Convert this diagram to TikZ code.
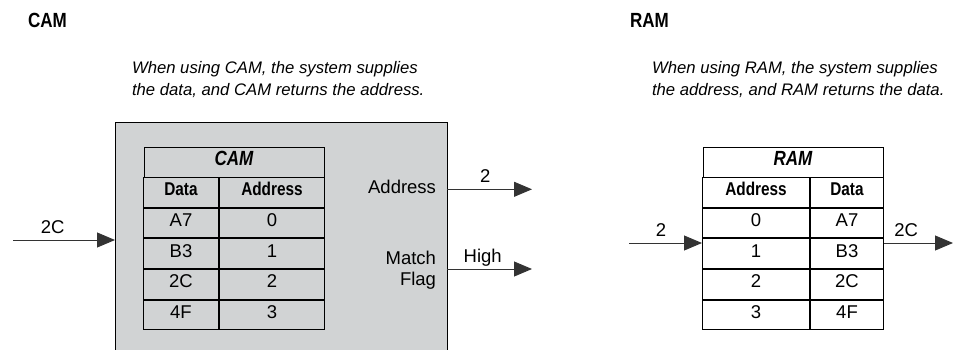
\documentclass[tikz,border=0pt]{standalone}
\usepackage{fontspec}
\setmainfont{Liberation Sans}
\newfontfamily\headfont[FakeStretch=0.83]{Liberation Sans}
\usetikzlibrary{arrows.meta,
                positioning,
                quotes}
\definecolor{boxgray}{RGB}{209,211,212}

\begin{document}
\begin{tikzpicture}[
    x=1bp, y=-1bp,
    line width=1bp,
        base/.style = {inner sep=0pt, outer sep=0pt},
        title/.style = {base, font=\headfont\bfseries\fontsize{20.5bp}{24bp}\selectfont},
        note/.style = {base, align=left, font=\itshape\fontsize{16.7bp}{22.4bp}\selectfont},
        sigtext/.style = {base, font=\fontsize{18.5bp}{21bp}\selectfont},
        cell/.style = {base, draw, minimum height=29.67bp, text height=0.72em, text depth=0pt,
                       font=\fontsize{18.5bp}{21bp}\selectfont},
        head/.style = {cell, font=\headfont\bfseries\fontsize{18.5bp}{21bp}\selectfont},
        tabtitle/.style = {cell, minimum width=180bp,
                           font=\headfont\bfseries\itshape\fontsize{20.5bp}{24bp}\selectfont},
        memtab/.style = {base, column sep=0pt, row sep=0pt},
        membox/.style = {base, draw, fill=boxgray, minimum width=332bp, minimum height=240bp},
        sig/.style = {draw=black!80, line width=.9bp, arrows=-{Triangle[length=18bp, width=15bp]}},
        every edge quotes/.style = {auto=left, pos=.42, inner sep=0pt, outer sep=6.5bp,
                                    text depth=0pt, font=\fontsize{18.5bp}{21bp}\selectfont}
        ]

    \useasboundingbox (0,0) rectangle (953,349);
    \clip (0,0) rectangle (953,349);

    % headings
    \node[title, anchor=base west] (camhead) at (28,27) {CAM};
    \node[title, anchor=base west] (ramhead) at (630,27) {RAM};

    \node[note, anchor=north west] (camnote) at (132,61)
        {When using CAM, the system supplies\\the data, and CAM returns the address.};
    \node[note, anchor=north west] (ramnote) at (652,61)
        {When using RAM, the system supplies\\the address, and RAM returns the data.};

    % CAM side
    \node[membox, anchor=north west] (cambox) at (115,122) {};

    \matrix[memtab, anchor=north west,
            column 1/.style={nodes={minimum width=75bp}},
            column 2/.style={nodes={minimum width=105bp}}] (camtab) at (143,177)
    {
        % Header
        \node[head] (cam-h1) {Data}; & \node[head] (cam-h2) {Address}; \\
        % Row 1
        \node[cell] (cam-d0) {A7}; & \node[cell] (cam-a0) {0}; \\
        % Row 2
        \node[cell] (cam-d1) {B3}; & \node[cell] (cam-a1) {1}; \\
        % Row 3
        \node[cell] (cam-d2) {2C}; & \node[cell] (cam-a2) {2}; \\
        % Row 4
        \node[cell] (cam-d3) {4F}; & \node[cell] (cam-a3) {3}; \\
    };
    \node[tabtitle, above=0pt of camtab] (camtitle) {CAM};

    \node[sigtext, anchor=base east] (addrtext) at (436,193.3) {Address};
    \node[sigtext, align=right, anchor=north east] (flagtext) at (436,251) {Match\\Flag};

    % RAM side
    \matrix[memtab, anchor=north west,
            column 1/.style={nodes={minimum width=107bp}},
            column 2/.style={nodes={minimum width=73bp}}] (ramtab) at (702,177)
    {
        % Header
        \node[head] (ram-h1) {Address}; & \node[head] (ram-h2) {Data}; \\
        % Row 1
        \node[cell] (ram-a0) {0}; & \node[cell] (ram-d0) {A7}; \\
        % Row 2
        \node[cell] (ram-a1) {1}; & \node[cell] (ram-d1) {B3}; \\
        % Row 3
        \node[cell] (ram-a2) {2}; & \node[cell] (ram-d2) {2C}; \\
        % Row 4
        \node[cell] (ram-a3) {3}; & \node[cell] (ram-d3) {4F}; \\
    };
    \node[tabtitle, above=0pt of ramtab] (ramtitle) {RAM};

    % signals
    \coordinate (camin)   at (13,240);
    \coordinate (addrout) at (532,189.3);
    \coordinate (flagout) at (532,269);
    \coordinate (ramin)   at (629,243);
    \coordinate (ramout)  at (953,243);

    % 'edge' so that every signal gets its own tip
    \path
        (camin)                  edge[sig, "2C" pos=.39]  (camin -| cambox.west)
        (cambox.east |- addrout) edge[sig, "2" pos=.45]   (addrout)
        (cambox.east |- flagout) edge[sig, "High"]        (flagout)
        (ramin)                  edge[sig, "2" pos=.44]   (ramin -| ramtab.west)
        (ramtab.east |- ramout)  edge[sig, "2C" pos=.32]  (ramout);

\end{tikzpicture}
\end{document}
